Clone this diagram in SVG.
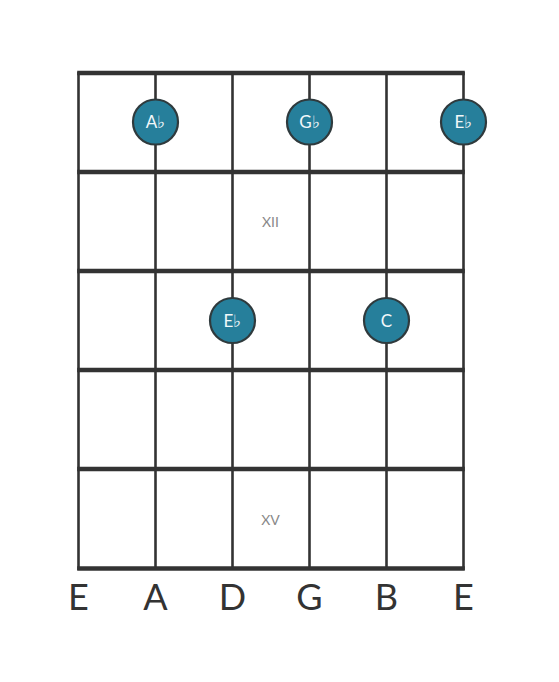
<svg xmlns="http://www.w3.org/2000/svg" width="559" height="682" viewBox="0 0 559 682">
<style>
.fret{stroke:#333;stroke-width:4.5;stroke-linecap:butt}
.str{stroke:#333;stroke-width:2.6}
.note circle{fill:#267f9b;stroke:#2f3a3d;stroke-width:2.2}
.note text{fill:#f2f8fa;font-family:Lato,"Open Sans",sans-serif;font-size:17px;text-anchor:middle}
.lab{fill:#333;font-family:Lato,"Open Sans",sans-serif;font-size:36px;text-anchor:middle}
.fl{fill:#888;font-family:Lato,"Open Sans",sans-serif;font-size:14px;text-anchor:middle}
</style>
<rect width="559" height="682" fill="#fff"/>
<g id="connectors">
<line class="str" x1="78.5" y1="72" x2="78.5" y2="570"/>
<line class="str" x1="155.5" y1="72" x2="155.5" y2="570"/>
<line class="str" x1="232.5" y1="72" x2="232.5" y2="570"/>
<line class="str" x1="309.5" y1="72" x2="309.5" y2="570"/>
<line class="str" x1="386.5" y1="72" x2="386.5" y2="570"/>
<line class="str" x1="463.5" y1="72" x2="463.5" y2="570"/>
<line class="fret" x1="77.2" y1="73" x2="464.8" y2="73"/>
<line class="fret" x1="77.2" y1="172" x2="464.8" y2="172"/>
<line class="fret" x1="77.2" y1="271" x2="464.8" y2="271"/>
<line class="fret" x1="77.2" y1="370" x2="464.8" y2="370"/>
<line class="fret" x1="77.2" y1="469" x2="464.8" y2="469"/>
<line class="fret" x1="77.2" y1="568.5" x2="464.8" y2="568.5"/>
</g>
<g id="fret-labels">
<text class="fl" x="270.5" y="227">XII</text>
<text class="fl" x="270.5" y="525">XV</text>
</g>
<g id="n1" class="note"><circle cx="155.5" cy="122" r="22.5"/><text x="155.5" y="128">A♭</text></g>
<g id="n2" class="note"><circle cx="309.5" cy="122" r="22.5"/><text x="309.5" y="128">G♭</text></g>
<g id="n3" class="note"><circle cx="463.5" cy="122" r="22.5"/><text x="463.5" y="128">E♭</text></g>
<g id="n4" class="note"><circle cx="232.5" cy="320.5" r="22.5"/><text x="232.5" y="326.5">E♭</text></g>
<g id="n5" class="note"><circle cx="386.5" cy="320.5" r="22.5"/><text x="386.5" y="326.5">C</text></g>
<g id="string-labels">
<text class="lab" x="78.5" y="610">E</text>
<text class="lab" x="155.5" y="610">A</text>
<text class="lab" x="232.5" y="610">D</text>
<text class="lab" x="309.5" y="610">G</text>
<text class="lab" x="386.5" y="610">B</text>
<text class="lab" x="463.5" y="610">E</text>
</g>
</svg>
